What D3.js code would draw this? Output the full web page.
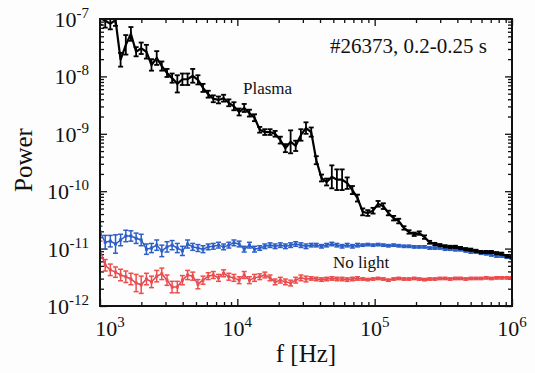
<!DOCTYPE html>
<html>
<head>
<meta charset="utf-8">
<script src="https://cdn.jsdelivr.net/npm/d3@7"></script>
<style>
    body { margin: 0; background: #fdfdfe; }
    text { font-family: "Liberation Serif", "Times New Roman", serif; fill: #111; }
</style>
</head>
<body>
<div id="chart"></div>
<script>
// frequency bins, log10(f / Hz)
var logF = [3.000, 3.038, 3.075, 3.113, 3.150, 3.188, 3.225, 3.263, 3.300, 3.338,
    3.375, 3.413, 3.450, 3.488, 3.525, 3.563, 3.600, 3.638, 3.675, 3.713,
    3.750, 3.788, 3.825, 3.863, 3.900, 3.938, 3.975, 4.013, 4.050, 4.088,
    4.125, 4.163, 4.200, 4.238, 4.275, 4.313, 4.350, 4.388, 4.425, 4.463,
    4.500, 4.538, 4.575, 4.613, 4.650, 4.688, 4.725, 4.763, 4.800, 4.838,
    4.875, 4.913, 4.950, 4.988, 5.025, 5.063, 5.100, 5.138, 5.175, 5.213,
    5.250, 5.288, 5.325, 5.363, 5.400, 5.438, 5.475, 5.513, 5.550, 5.588,
    5.625, 5.663, 5.700, 5.738, 5.775, 5.813, 5.850, 5.888, 5.925, 5.963, 6.000];

// log10(power) and error half-width (decades)
var plasmaLog = [-6.98, -7.03, -7.08, -7.02, -7.71, -7.45, -7.26, -7.57, -7.51, -7.57,
    -7.80, -7.68, -7.82, -7.94, -8.03, -8.13, -8.05, -8.05, -7.99, -8.06,
    -8.20, -8.31, -8.39, -8.41, -8.38, -8.46, -8.52, -8.62, -8.55, -8.64,
    -8.72, -8.93, -8.97, -8.97, -9.00, -9.11, -9.25, -9.14, -9.21, -9.02,
    -8.90, -8.97, -9.46, -9.77, -9.84, -9.75, -9.80, -9.80, -9.86, -9.98,
    -10.12, -10.36, -10.38, -10.34, -10.22, -10.26, -10.38, -10.47, -10.52, -10.64,
    -10.71, -10.75, -10.73, -10.80, -10.89, -10.92, -10.94, -10.96, -10.97, -10.97,
    -10.99, -11.01, -11.02, -11.04, -11.06, -11.06, -11.06, -11.08, -11.09, -11.13, -11.15];
var plasmaErr = [0.12, 0.12, 0.10, 0.10, 0.12, 0.17, 0.12, 0.08, 0.10, 0.12,
    0.10, 0.12, 0.08, 0.07, 0.08, 0.15, 0.10, 0.10, 0.12, 0.08,
    0.07, 0.06, 0.06, 0.06, 0.06, 0.06, 0.07, 0.06, 0.07, 0.06,
    0.06, 0.05, 0.05, 0.05, 0.05, 0.06, 0.07, 0.20, 0.09, 0.10,
    0.10, 0.08, 0.07, 0.06, 0.06, 0.20, 0.18, 0.18, 0.10, 0.07,
    0.06, 0.06, 0.05, 0.05, 0.05, 0.05, 0.04, 0.04, 0.04, 0.03,
    0.03, 0.03, 0.03, 0.03, 0.025, 0.02, 0.02, 0.02, 0.02, 0.02,
    0.02, 0.02, 0.02, 0.02, 0.02, 0.02, 0.02, 0.02, 0.02, 0.02, 0.02];

var blueLog = [-10.71, -10.89, -10.87, -10.92, -10.85, -10.78, -10.78, -10.82, -10.85, -11.01,
    -10.99, -10.94, -11.04, -10.97, -10.94, -10.99, -11.04, -10.92, -10.97, -10.99,
    -11.01, -10.97, -10.96, -10.94, -10.97, -10.94, -10.90, -10.92, -11.01, -10.94,
    -11.01, -10.99, -10.96, -10.94, -10.96, -10.94, -10.96, -10.94, -10.92, -10.94,
    -10.96, -10.94, -10.94, -10.96, -10.94, -10.92, -10.94, -10.96, -10.94, -10.96,
    -10.94, -10.94, -10.93, -10.94, -10.93, -10.94, -10.95, -10.94, -10.95, -10.96,
    -10.96, -10.97, -10.97, -10.97, -10.99, -10.99, -10.99, -11.01, -11.01, -11.02,
    -11.02, -11.04, -11.06, -11.06, -11.08, -11.09, -11.11, -11.13, -11.13, -11.15, -11.16];
var blueErr = [0.10, 0.12, 0.10, 0.16, 0.10, 0.10, 0.09, 0.09, 0.10, 0.09,
    0.08, 0.09, 0.10, 0.09, 0.08, 0.08, 0.08, 0.07, 0.06, 0.06,
    0.06, 0.05, 0.05, 0.05, 0.05, 0.05, 0.05, 0.05, 0.05, 0.05,
    0.05, 0.04, 0.04, 0.04, 0.04, 0.04, 0.04, 0.04, 0.04, 0.04,
    0.04, 0.03, 0.03, 0.03, 0.03, 0.03, 0.03, 0.03, 0.03, 0.03,
    0.03, 0.02, 0.02, 0.02, 0.02, 0.02, 0.02, 0.02, 0.02, 0.02,
    0.02, 0.02, 0.02, 0.02, 0.02, 0.02, 0.02, 0.02, 0.02, 0.02,
    0.02, 0.02, 0.02, 0.02, 0.02, 0.02, 0.02, 0.02, 0.02, 0.02, 0.02];

var redLog = [-11.02, -11.29, -11.37, -11.41, -11.46, -11.49, -11.53, -11.60, -11.63, -11.53,
    -11.58, -11.48, -11.44, -11.55, -11.67, -11.67, -11.55, -11.46, -11.48, -11.62,
    -11.55, -11.48, -11.46, -11.51, -11.43, -11.49, -11.51, -11.55, -11.46, -11.55,
    -11.51, -11.49, -11.46, -11.51, -11.58, -11.55, -11.58, -11.60, -11.55, -11.51,
    -11.53, -11.52, -11.53, -11.54, -11.53, -11.52, -11.53, -11.53, -11.54, -11.53,
    -11.52, -11.53, -11.54, -11.53, -11.52, -11.53, -11.55, -11.53, -11.52, -11.53,
    -11.53, -11.52, -11.53, -11.54, -11.53, -11.53, -11.52, -11.52, -11.53, -11.52,
    -11.52, -11.53, -11.52, -11.52, -11.52, -11.51, -11.52, -11.51, -11.51, -11.51, -11.51];
var redErr = [0.15, 0.10, 0.10, 0.09, 0.10, 0.10, 0.10, 0.15, 0.15, 0.10,
    0.10, 0.10, 0.10, 0.09, 0.10, 0.10, 0.08, 0.08, 0.07, 0.08,
    0.07, 0.06, 0.06, 0.06, 0.06, 0.06, 0.06, 0.06, 0.06, 0.06,
    0.06, 0.05, 0.05, 0.05, 0.05, 0.05, 0.05, 0.05, 0.05, 0.05,
    0.05, 0.03, 0.03, 0.03, 0.03, 0.03, 0.03, 0.03, 0.03, 0.03,
    0.03, 0.02, 0.02, 0.02, 0.02, 0.02, 0.02, 0.02, 0.02, 0.02,
    0.02, 0.02, 0.02, 0.02, 0.02, 0.02, 0.02, 0.02, 0.02, 0.02,
    0.02, 0.02, 0.02, 0.02, 0.02, 0.02, 0.02, 0.02, 0.02, 0.02, 0.02];

// tick labels (exponents)
var xTickExp = [3, 4, 5, 6];
var yTickExp = [-7, -8, -9, -10, -11, -12];

var margin = {top: 19, right: 23, bottom: 67, left: 100},
    width = 535 - margin.left - margin.right,
    height = 373 - margin.top - margin.bottom;

var svg = d3.select("#chart").append("svg")
    .attr("width", 535)
    .attr("height", 373);

var g = svg.append("g")
    .attr("transform", "translate(" + margin.left + "," + margin.top + ")");

var x = d3.scaleLog().domain([1e3, 1e6]).range([0, width]);
var y = d3.scaleLog().domain([1e-12, 1e-7]).range([height, 0]);

g.append("clipPath").attr("id", "plotClip")
    .append("rect").attr("width", width).attr("height", height);

// minor tick values 2..9 x 10^e
function minorTicks(e0, e1) {
    var out = [];
    for (var e = e0; e < e1; e++) {
        for (var m = 2; m <= 9; m++) out.push(m * Math.pow(10, e));
    }
    return out;
}
var xMajor = xTickExp.map(function (e) { return Math.pow(10, e); });
var yMajor = yTickExp.map(function (e) { return Math.pow(10, e); });
var xMinor = minorTicks(3, 6);
var yMinor = minorTicks(-12, -7);

function tickLayer(axis, vals, size, transform) {
    var a = g.append("g").attr("class", "tick-layer")
        .attr("transform", transform || null)
        .call(axis.tickValues(vals).tickSize(size).tickFormat(""));
    a.select(".domain").remove();
    a.selectAll("line").attr("stroke", "#111").attr("stroke-width", 1.3);
}

// ticks inside on all four sides
tickLayer(d3.axisBottom(x), xMajor, -7, "translate(0," + height + ")");
tickLayer(d3.axisBottom(x), xMinor, -4, "translate(0," + height + ")");
tickLayer(d3.axisTop(x), xMajor, -7);
tickLayer(d3.axisTop(x), xMinor, -4);
tickLayer(d3.axisLeft(y), yMajor, -7);
tickLayer(d3.axisLeft(y), yMinor, -4);
tickLayer(d3.axisRight(y), yMajor, -7, "translate(" + width + ",0)");
tickLayer(d3.axisRight(y), yMinor, -4, "translate(" + width + ",0)");

// series
var series = [
    {name: "noLight", vals: redLog, err: redErr, line: "#d4476a", bar: "#ee4e48", marker: true, w: 1.5},
    {name: "blue", vals: blueLog, err: blueErr, line: "#2c5fc6", bar: "#2c5fc6", marker: true, w: 1.5},
    {name: "plasma", vals: plasmaLog, err: plasmaErr, line: "#000", bar: "#000", marker: false, w: 1.8}
];

var plot = g.append("g").attr("clip-path", "url(#plotClip)");

var line = d3.line()
    .x(function (d) { return x(Math.pow(10, d.f)); })
    .y(function (d) { return y(Math.pow(10, d.v)); });

series.forEach(function (s) {
    var pts = logF.map(function (f, i) { return {f: f, v: s.vals[i], e: s.err[i]}; });
    var sg = plot.append("g").attr("class", s.name);

    var bars = sg.selectAll("g.eb").data(pts).enter().append("g").attr("class", "eb");
    bars.append("line")
        .attr("x1", function (d) { return x(Math.pow(10, d.f)); })
        .attr("x2", function (d) { return x(Math.pow(10, d.f)); })
        .attr("y1", function (d) { return y(Math.pow(10, d.v - d.e)); })
        .attr("y2", function (d) { return y(Math.pow(10, d.v + d.e)); })
        .attr("stroke", s.bar).attr("stroke-width", s.w);
    [-1, 1].forEach(function (sgn) {
        bars.append("line")
            .attr("x1", function (d) { return x(Math.pow(10, d.f)) - 2.5; })
            .attr("x2", function (d) { return x(Math.pow(10, d.f)) + 2.5; })
            .attr("y1", function (d) { return y(Math.pow(10, d.v + sgn * d.e)); })
            .attr("y2", function (d) { return y(Math.pow(10, d.v + sgn * d.e)); })
            .attr("stroke", s.bar).attr("stroke-width", s.w);
    });

    sg.append("path").datum(pts)
        .attr("d", line)
        .attr("fill", "none")
        .attr("stroke", s.line)
        .attr("stroke-width", s.marker ? 1.5 : 2.2);

    if (s.marker) {
        sg.selectAll("rect.mk").data(pts).enter().append("rect")
            .attr("class", "mk")
            .attr("x", function (d) { return x(Math.pow(10, d.f)) - 1.5; })
            .attr("y", function (d) { return y(Math.pow(10, d.v)) - 1.5; })
            .attr("width", 3).attr("height", 3)
            .attr("fill", s.bar);
    }
});

// frame
g.append("rect")
    .attr("width", width).attr("height", height)
    .attr("fill", "none").attr("stroke", "#111").attr("stroke-width", 2);

// tick labels with superscripts
g.selectAll("text.ylab").data(yTickExp).enter().append("text")
    .attr("class", "ylab")
    .attr("x", -11)
    .attr("y", function (e) { return y(Math.pow(10, e)) + 8; })
    .attr("text-anchor", "end")
    .style("font-size", "22px")
    .each(function (e) {
        var t = d3.select(this);
        t.append("tspan").text("10");
        t.append("tspan").attr("dy", -9).style("font-size", "15px").text(e);
    });

g.selectAll("text.xlab").data(xTickExp).enter().append("text")
    .attr("class", "xlab")
    .attr("x", function (e, i) { return x(Math.pow(10, e)) + (i === 0 ? 10 : 0); })
    .attr("y", height + 30)
    .attr("text-anchor", "middle")
    .style("font-size", "22px")
    .each(function (e) {
        var t = d3.select(this);
        t.append("tspan").text("10");
        t.append("tspan").attr("dy", -9).style("font-size", "15px").text(e);
    });

// axis titles
svg.append("text")
    .attr("transform", "translate(32,160) rotate(-90)")
    .attr("text-anchor", "middle")
    .style("font-size", "25px")
    .text("Power");

svg.append("text")
    .attr("x", 306).attr("y", 362)
    .attr("text-anchor", "middle")
    .style("font-size", "25px")
    .text("f [Hz]");

// annotations
svg.append("text").attr("x", 330).attr("y", 53)
    .style("font-size", "21px").text("#26373, 0.2-0.25 s");
svg.append("text").attr("x", 243).attr("y", 94)
    .style("font-size", "17px").text("Plasma");
svg.append("text").attr("x", 333).attr("y", 268)
    .style("font-size", "17px").text("No light");
</script>
</body>
</html>
